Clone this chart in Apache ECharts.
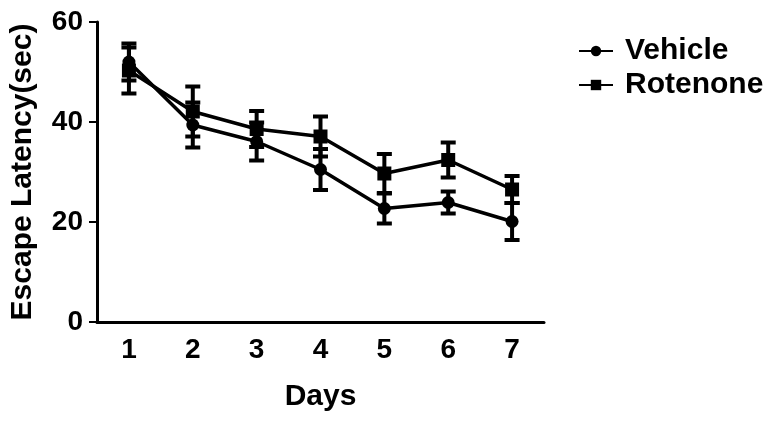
<!DOCTYPE html>
<html><head><meta charset="utf-8">
<script src="https://cdn.jsdelivr.net/npm/echarts@6/dist/echarts.min.js"></script>
<style>html,body{margin:0;padding:0;background:#fff}#c{width:780px;height:425px}</style>
</head><body><div id="c"></div>
<script>
const days = ['1','2','3','4','5','6','7'];
const vehicleMean = [52.0, 39.4, 36.1, 30.5, 22.7, 23.9, 20.1];
const vehicleErr  = [3.7, 4.5, 3.8, 4.1, 3.0, 2.2, 3.7];
const rotenoneMean = [50.3, 42.1, 38.6, 37.1, 29.7, 32.4, 26.5];
const rotenoneErr  = [4.6, 5.0, 3.6, 4.0, 3.9, 3.5, 2.7];
const yTicks = [0, 20, 40, 60];

const FONT = 'Liberation Sans, Arial, sans-serif';
function errData(mean, err){ return mean.map((m,i)=>[i, m-err[i], m+err[i]]); }
function errSeries(name, mean, err){
  return {
    type:'custom', name: name + ' err', silent:true, z:1,
    data: errData(mean, err),
    encode:{x:0, y:[1,2]},
    renderItem(params, api){
      const i = api.value(0);
      const lo = api.coord([i, api.value(1)]);
      const hi = api.coord([i, api.value(2)]);
      const hw = 7.5;
      const st = {stroke:'#000', lineWidth:4};
      return {type:'group', children:[
        {type:'line', shape:{x1:lo[0],y1:lo[1],x2:hi[0],y2:hi[1]}, style:st},
        {type:'line', shape:{x1:hi[0]-hw,y1:hi[1],x2:hi[0]+hw,y2:hi[1]}, style:st},
        {type:'line', shape:{x1:lo[0]-hw,y1:lo[1],x2:lo[0]+hw,y2:lo[1]}, style:st}
      ]};
    }
  };
}
const chart = echarts.init(document.getElementById('c'), null, {renderer:'canvas'});
chart.setOption({
  animation:false,
  backgroundColor:'#fff',
  grid:{left:95, right:236, top:22, bottom:103},
  legend:{
    data:['Vehicle','Rotenone'], orient:'vertical', left:573, top:31,
    itemWidth:34, itemHeight:13, itemGap:4,
    textStyle:{fontFamily:FONT, fontWeight:'bold', fontSize:30, color:'#000', padding:[0,0,0,7]}
  },
  xAxis:{
    type:'category', data:days, boundaryGap:true,
    name:'Days', nameLocation:'middle', nameGap:60,
    nameTextStyle:{fontFamily:FONT, fontWeight:'bold', fontSize:30, color:'#000'},
    axisLine:{lineStyle:{color:'#000', width:3}},
    axisTick:{alignWithLabel:true, length:8, lineStyle:{color:'#000', width:2}},
    axisLabel:{fontFamily:FONT, fontWeight:'bold', fontSize:28, color:'#000', margin:14},
    splitLine:{show:false}
  },
  yAxis:{
    type:'value', min:yTicks[0], max:yTicks[yTicks.length-1], interval:20,
    name:'Escape Latency(sec)', nameLocation:'middle', nameGap:59,
    nameTextStyle:{fontFamily:FONT, fontWeight:'bold', fontSize:30, color:'#000'},
    axisLine:{show:true, lineStyle:{color:'#000', width:3}},
    axisTick:{show:true, length:8, lineStyle:{color:'#000', width:2}},
    axisLabel:{fontFamily:FONT, fontWeight:'bold', fontSize:28, color:'#000', margin:14},
    splitLine:{show:false}
  },
  series:[
    errSeries('Vehicle', vehicleMean, vehicleErr),
    errSeries('Rotenone', rotenoneMean, rotenoneErr),
    {name:'Vehicle', type:'line', data:vehicleMean, symbol:'circle', symbolSize:13, z:3,
     lineStyle:{color:'#000', width:3.5}, itemStyle:{color:'#000'}},
    {name:'Rotenone', type:'line', data:rotenoneMean, symbol:'rect', symbolSize:14, z:3,
     lineStyle:{color:'#000', width:3.5}, itemStyle:{color:'#000'}}
  ]
});
</script></body></html>
